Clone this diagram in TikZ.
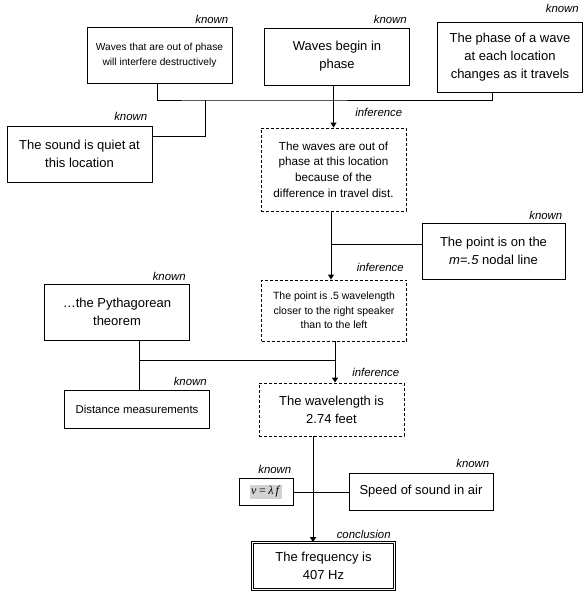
\documentclass[tikz,border=0pt]{standalone}
\usepackage{fontspec}
\setmainfont{Liberation Sans}
\newfontfamily\eqfont{Liberation Serif}
\usetikzlibrary{arrows.meta}

\tikzset{
  fact/.style={draw, line width=0.9pt, align=center, inner sep=2pt,
    minimum width=145pt, font=\fontsize{13}{18}\selectfont},
  guess/.style={fact, dash pattern=on 3pt off 2pt},
  tag/.style={anchor=base east, inner sep=0pt, font=\fontsize{11.4}{13}\selectfont\itshape},
  link/.style={line width=0.9pt},
  arr/.style={link, -{Triangle[length=5pt,width=6pt]}}
}

\begin{document}
\begin{tikzpicture}[x=1pt, y=-1pt]
  \useasboundingbox (0,0) rectangle (588,607);

  % Top row of known facts
  \node[fact, minimum height=56pt, font=\fontsize{10.2}{15}\selectfont] (destr) at (159.5,55)
    {Waves that are out of phase\\will interfere destructively};
  \node[fact, minimum height=57pt] (begin) at (337,56.5) {Waves begin in\\phase};
  \node[fact, minimum height=70pt] (travel) at (510,57)
    {The phase of a wave\\at each location\\changes as it travels};
  \node[fact, minimum height=56pt] (quiet) at (79.5,154) {The sound is quiet at\\this location};

  % Inferences down the middle
  \node[guess, minimum height=83pt, font=\fontsize{11.7}{15.6}\selectfont] (outof) at (333.5,169.5)
    {The waves are out of\\phase at this location\\because of the\\difference in travel dist.};
  \node[fact, minimum height=56pt, minimum width=143pt] (nodal) at (493.5,251)
    {The point is on the\\\textit{m}=\textit{.5} nodal line};
  \node[guess, minimum height=61pt, font=\fontsize{10.5}{14.3}\selectfont] (closer) at (334,310.5)
    {The point is .5 wavelength\\closer to the right speaker\\than to the left};
  \node[fact, minimum height=56pt] (pyth) at (117,312) {\dots the Pythagorean\\theorem};
  \node[fact, minimum height=38pt, font=\fontsize{11.4}{14}\selectfont] (dist) at (137,409)
    {Distance measurements};
  \node[guess, minimum height=53pt] (wave) at (331.5,409.5) {The wavelength is\\2.74 feet};

  % Bottom: formula, speed and the conclusion
  \node[fact, minimum width=54pt, minimum height=27pt, font=\fontsize{12}{13}\selectfont] (vlf) at (266,492)
    {\setlength{\fboxsep}{1.2pt}\colorbox{gray!35}{\eqfont\itshape v\,=\,λ\,f\,}};
  \node[fact, minimum height=37pt, minimum width=144pt] (speed) at (421,491.5) {Speed of sound in air};
  \node[fact, double, double distance=1.6pt, line width=0.7pt, minimum width=142pt,
    minimum height=47pt] (freq) at (323.5,566) {The frequency is\\407 Hz};

  % Labels over the boxes
  \foreach \n/\t/\dx/\dy in {destr/known/4/3, begin/known/3/4, travel/known/4/9, quiet/known/5/5,
      outof/inference/4/11, nodal/known/3/3, closer/inference/3/8, pyth/known/4/3,
      dist/known/3/4, wave/inference/5/6, vlf/known/2/5, speed/known/4/5, freq/conclusion/4/4}
    \node[tag] (tag-\n) at ([xshift=-\dx pt, yshift=\dy pt]\n.north east) {\t};

  % Connectors
  \coordinate (topbus) at (205,100);
  \coordinate (afoot) at (157,83);
  \coordinate (cfoot) at (492,92);
  \draw[link] (afoot) |- (topbus) -| (cfoot);
  \draw[link] ([yshift=18pt]quiet.east) -| (topbus);
  \draw[arr] (begin.south -| outof.north) -- (outof.north);

  \coordinate (gjoin) at (331,244);
  \draw[link] (gjoin) -- (gjoin -| nodal.west);
  \draw[arr] (outof.south -| gjoin) -- (closer.north -| gjoin);

  \coordinate (midbus) at (139,360);
  \coordinate (fline) at (335,360);
  \draw[link] (pyth.south -| midbus) -- (dist.north -| midbus);
  \draw[link] (midbus) -- (fline);
  \draw[arr] (closer.south -| fline) -- (wave.north -| fline);

  \coordinate (drop) at (313,490);
  \draw[arr] (wave.south -| drop) -- (freq.north -| drop);
  \draw[link] (vlf.east) -- (vlf.east -| speed.west);
\end{tikzpicture}
\end{document}
